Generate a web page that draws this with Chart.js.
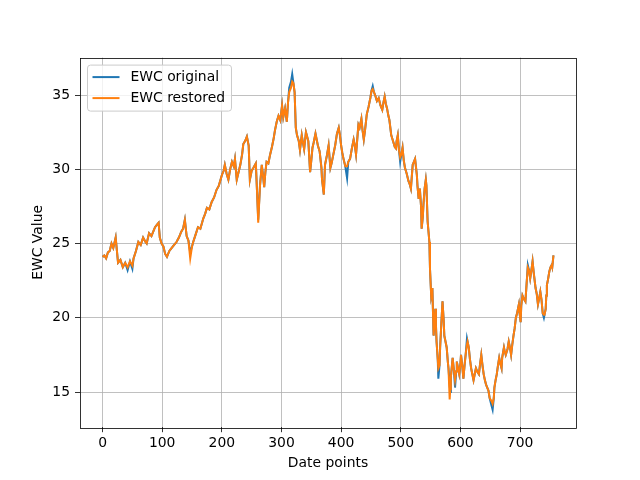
<!DOCTYPE html>
<html>
<head>
<meta charset="utf-8">
<script src="https://cdn.jsdelivr.net/npm/chart.js@4.4.0/dist/chart.umd.min.js"></script>
<style>
  html, body { margin: 0; padding: 0; background: #fff; }
  #wrap { width: 640px; height: 480px; }
</style>
</head>
<body>
<div id="wrap"><canvas id="myChart" width="640" height="480"></canvas></div>
<script>
const datePoints = [0,3,6,9,12,15,18,22,26,30,
  34,38,42,46,50,52,56,60,64,68,
  72,74,78,82,86,88,92,94,96,99,
  102,105,108,112,116,120,124,128,132,135,
  138,141,144,147,150,152,156,160,164,169,
  172,175,179,183,187,191,195,200,203,205,
  208,211,214,217,220,222,225,228,231,234,
  236,239,242,245,247,250,253,257,259,261,
  264,267,269,271,273,275,278,281,284,287,
  289,292,295,298,301,303,306,309,311,313,
  316,318,320,322,324,326,329,331,334,336,
  338,341,343,345,348,350,352,354,357,359,
  361,364,367,368,371,373,376,379,382,384,
  387,390,393,396,398,400,402,404,407,410,
  412,415,418,421,423,425,427,429,431,434,
  436,438,440,443,446,449,451,453,455,457,
  460,463,466,469,471,473,475,477,479,481,
  484,487,490,492,493,495,497,499,501,503,
  505,507,510,513,515,517,520,522,524,527,
  528,530,531,532,534,535,537,538,540,542,
  543,545,548,549,551,553,555,558,559,560,
  562,563,565,566,568,570,572,573,575,577,
  579,580,582,583,584,587,589,591,593,594,
  596,598,600,601,603,605,607,609,611,612,
  614,616,618,620,622,624,626,628,631,633,
  635,637,639,641,643,645,647,649,652,654,
  656,657,659,661,663,665,667,669,670,673,
  674,676,679,681,683,685,687,689,691,693,
  695,698,699,701,702,704,706,709,711,713,
  715,717,719,721,723,726,728,730,732,734,
  736,738,740,741,743,744,745,747,749,751,
  753,754,756];

const ewcOriginal = [24.1,24.2,24.0,24.4,24.5,25.0,24.7,25.4,23.7,23.9,
  23.4,23.7,23.2,23.8,23.3,24.0,24.5,25.1,24.9,25.4,
  25.1,25.0,25.7,25.5,25.9,26.1,26.3,26.4,25.4,25.0,
  24.8,24.3,24.1,24.5,24.7,24.9,25.1,25.4,25.8,26.0,
  26.6,25.5,25.2,24.4,24.8,25.1,25.6,26.1,26.0,26.7,
  27.0,27.4,27.3,27.8,28.1,28.6,28.9,29.6,29.9,30.3,
  29.7,29.3,30.0,30.5,30.2,30.7,29.3,29.8,30.3,31.0,
  31.7,31.9,32.2,31.6,29.3,29.9,30.1,30.4,28.5,26.6,
  28.9,30.3,29.6,28.8,29.8,30.5,30.4,31.0,31.5,32.1,
  32.6,33.2,33.6,33.3,34.3,33.5,34.1,33.2,34.5,35.5,
  35.9,36.4,35.8,35.2,32.8,32.3,31.9,31.3,32.3,31.8,
  31.35,32.5,32.2,31.9,29.8,30.6,31.45,31.8,32.4,32.0,
  31.6,31.2,30.1,29.3,28.3,30.3,30.9,31.6,30.1,30.4,
  31.0,31.6,32.4,32.8,32.3,31.6,31.1,30.7,30.2,29.4,
  30.5,30.7,31.4,32.0,31.6,31.0,32.0,33.0,32.8,33.4,
  32.6,32.0,32.6,33.7,34.2,34.8,35.3,35.6,35.2,35.0,
  34.6,34.8,34.3,34.0,34.5,34.9,34.4,34.1,33.65,33.3,
  32.3,31.9,31.5,31.4,31.9,32.3,31.3,30.5,31.0,31.45,
  30.6,30.1,29.7,29.2,29.0,28.7,30.3,30.5,30.7,29.6,
  28.9,28.0,28.4,28.7,27.5,26.0,26.8,27.6,28.7,29.3,
  28.9,26.5,25.1,23.3,21.5,22.0,18.8,20.6,19.5,18.4,
  17.2,15.9,16.8,18.0,19.6,21.1,19.8,18.8,18.4,18.0,
  17.0,16.6,15.5,15.0,16.0,17.3,16.5,15.3,16.4,17.05,
  16.6,16.2,16.9,17.5,16.8,15.9,16.8,17.6,18.6,18.4,
  18.0,17.2,16.6,16.2,15.8,16.2,16.6,16.4,16.2,16.9,
  17.5,16.8,16.2,15.8,15.5,15.3,15.1,14.6,14.1,13.8,
  14.6,15.3,15.8,16.2,16.8,17.3,16.9,16.6,17.3,18.0,
  17.8,17.5,17.9,18.4,18.0,17.5,18.2,18.8,19.3,20.0,
  20.3,20.9,20.4,19.7,20.8,21.5,21.3,21.1,22.3,23.55,
  23.2,22.65,23.2,23.8,23.0,22.0,21.6,20.9,21.3,21.75,
  21.2,20.3,20.0,20.2,20.6,21.5,22.2,22.6,23.1,23.4,
  23.55,23.4,24.2];

const ewcRestored = [24.1,24.2,24.0,24.4,24.5,25.0,24.7,25.4,23.7,23.9,
  23.4,23.7,23.4,23.8,23.5,24.0,24.5,25.1,24.9,25.4,
  25.1,25.0,25.7,25.5,25.9,26.1,26.3,26.4,25.4,25.0,
  24.8,24.3,24.1,24.5,24.7,24.9,25.1,25.4,25.8,26.0,
  26.6,25.5,25.2,24.0,24.8,25.1,25.6,26.1,26.0,26.7,
  27.0,27.4,27.3,27.8,28.1,28.6,28.9,29.6,29.9,30.3,
  29.7,29.3,30.0,30.5,30.2,30.7,29.3,29.8,30.3,31.0,
  31.7,31.9,32.2,31.6,29.3,29.9,30.1,30.4,28.5,26.4,
  28.9,30.3,29.6,28.8,29.8,30.5,30.4,31.0,31.5,32.1,
  32.6,33.2,33.6,33.3,34.3,33.5,34.1,33.2,34.5,35.2,
  35.5,35.9,35.8,35.2,32.8,32.3,31.9,31.3,32.3,31.8,
  31.35,32.5,32.2,31.9,29.8,30.6,31.45,31.8,32.4,32.0,
  31.6,31.2,30.1,29.3,28.3,30.3,30.9,31.6,30.1,30.4,
  31.0,31.6,32.4,32.8,32.3,31.6,31.1,30.7,30.2,30.2,
  30.5,30.7,31.4,32.0,31.6,31.0,32.0,33.0,32.8,33.4,
  32.6,32.0,32.6,33.7,34.2,34.8,35.3,35.4,35.2,35.0,
  34.6,34.8,34.3,34.0,34.5,34.9,34.4,34.1,33.65,33.3,
  32.3,31.9,31.5,31.4,31.9,32.3,31.3,30.8,31.0,31.45,
  30.6,30.1,29.7,29.2,29.0,28.7,30.3,30.5,30.7,29.6,
  28.9,28.0,28.4,28.7,27.5,26.0,26.8,27.6,28.7,29.3,
  28.9,26.5,25.1,23.3,21.5,22.0,18.8,20.6,19.5,18.4,
  17.2,16.6,16.8,18.0,19.6,21.1,19.8,18.8,18.4,18.0,
  17.0,16.6,14.5,15.2,16.0,17.3,16.5,15.8,16.4,17.05,
  16.6,16.2,16.9,17.5,16.8,15.9,16.8,17.6,18.2,18.4,
  18.0,17.2,16.6,16.2,15.8,16.2,16.6,16.4,16.2,16.9,
  17.5,16.8,16.2,15.8,15.5,15.3,15.1,14.6,14.4,14.2,
  14.6,15.3,15.8,16.2,16.8,17.3,16.9,16.6,17.3,18.0,
  17.8,17.5,17.9,18.4,18.0,17.5,18.2,18.8,19.3,20.0,
  20.3,20.9,20.4,19.7,20.8,21.5,21.3,21.1,22.3,23.4,
  23.2,22.65,23.2,23.8,23.0,22.0,21.6,20.9,21.3,21.75,
  21.2,20.3,20.2,20.2,20.6,21.5,22.2,22.6,23.1,23.4,
  23.55,23.4,24.2];

const xTicks = [0,100,200,300,400,500,600,700];
const yTicks = [15,20,25,30,35];

const FONT = 'DejaVu Sans';

function toPoints(values) {
  return datePoints.map((x, i) => ({ x: x, y: values[i] }));
}

// frame round the plot area plus a matplotlib-like legend in the top left corner
const framePlugin = {
  id: 'frame',
  afterDraw(chart) {
    const { ctx, chartArea: a } = chart;
    ctx.save();
    ctx.strokeStyle = '#000';
    ctx.lineWidth = 0.8;
    ctx.strokeRect(Math.round(a.left) + 0.5, Math.round(a.top) + 0.5,
      Math.round(a.right - a.left), Math.round(a.bottom - a.top));

    // legend
    const bx = a.left + 7.5, by = a.top + 7.5, bw = 144, bh = 46;
    ctx.fillStyle = 'rgba(255,255,255,0.8)';
    ctx.strokeStyle = '#cccccc';
    ctx.lineWidth = 1;
    ctx.beginPath();
    ctx.roundRect(bx, by, bw, bh, 3);
    ctx.fill();
    ctx.stroke();
    ctx.font = '13.9px "' + FONT + '"';
    ctx.textBaseline = 'middle';
    ctx.fillStyle = '#000';
    chart.data.datasets.forEach((ds, i) => {
      const y = by + 12 + i * 21;
      ctx.strokeStyle = ds.borderColor;
      ctx.lineWidth = 2;
      ctx.beginPath();
      ctx.moveTo(bx + 5, y);
      ctx.lineTo(bx + 32, y);
      ctx.stroke();
      ctx.fillText(ds.label, bx + 43, y);
    });
    ctx.restore();
  }
};

const config = {
  type: 'line',
  data: {
    datasets: [
      {
        label: 'EWC original',
        data: toPoints(ewcOriginal),
        borderColor: '#1f77b4',
        borderWidth: 2,
        order: 1
      },
      {
        label: 'EWC restored',
        data: toPoints(ewcRestored),
        borderColor: '#ff7f0e',
        borderWidth: 2,
        order: 0
      }
    ]
  },
  options: {
    responsive: false,
    animation: false,
    events: [],
    layout: { padding: { left: 0, right: 64, top: 57.6, bottom: 0 } },
    elements: { point: { radius: 0 }, line: { tension: 0 } },
    plugins: { legend: { display: false }, tooltip: { enabled: false } },
    scales: {
      x: {
        type: 'linear',
        min: -37.8,
        max: 793.8,
        afterFit(scale) { scale.height = 52.8; },
        afterBuildTicks(scale) { scale.ticks = xTicks.map(v => ({ value: v })); },
        grid: { color: '#b0b0b0', lineWidth: 0.8, tickColor: '#000', tickLength: 5 },
        border: { display: false },
        ticks: {
          autoSkip: false, maxRotation: 0, padding: 3, color: '#000',
          font: { family: FONT, size: 13.9 }
        },
        title: {
          display: true, text: 'Date points', color: '#000',
          font: { family: FONT, size: 13.9 }, padding: { top: 0, bottom: 8 }
        }
      },
      y: {
        min: 12.63,
        max: 37.52,
        afterFit(scale) { scale.width = 80; },
        afterBuildTicks(scale) { scale.ticks = yTicks.map(v => ({ value: v })); },
        grid: { color: '#b0b0b0', lineWidth: 0.8, tickColor: '#000', tickLength: 5 },
        border: { display: false },
        ticks: {
          autoSkip: false, padding: 5, color: '#000',
          font: { family: FONT, size: 13.9 }
        },
        title: {
          display: true, text: 'EWC Value', color: '#000',
          font: { family: FONT, size: 13.9 }, padding: { top: 30, bottom: 0 }
        }
      }
    }
  },
  plugins: [framePlugin]
};

const myChart = new Chart(document.getElementById('myChart'), config);
</script>
</body>
</html>
